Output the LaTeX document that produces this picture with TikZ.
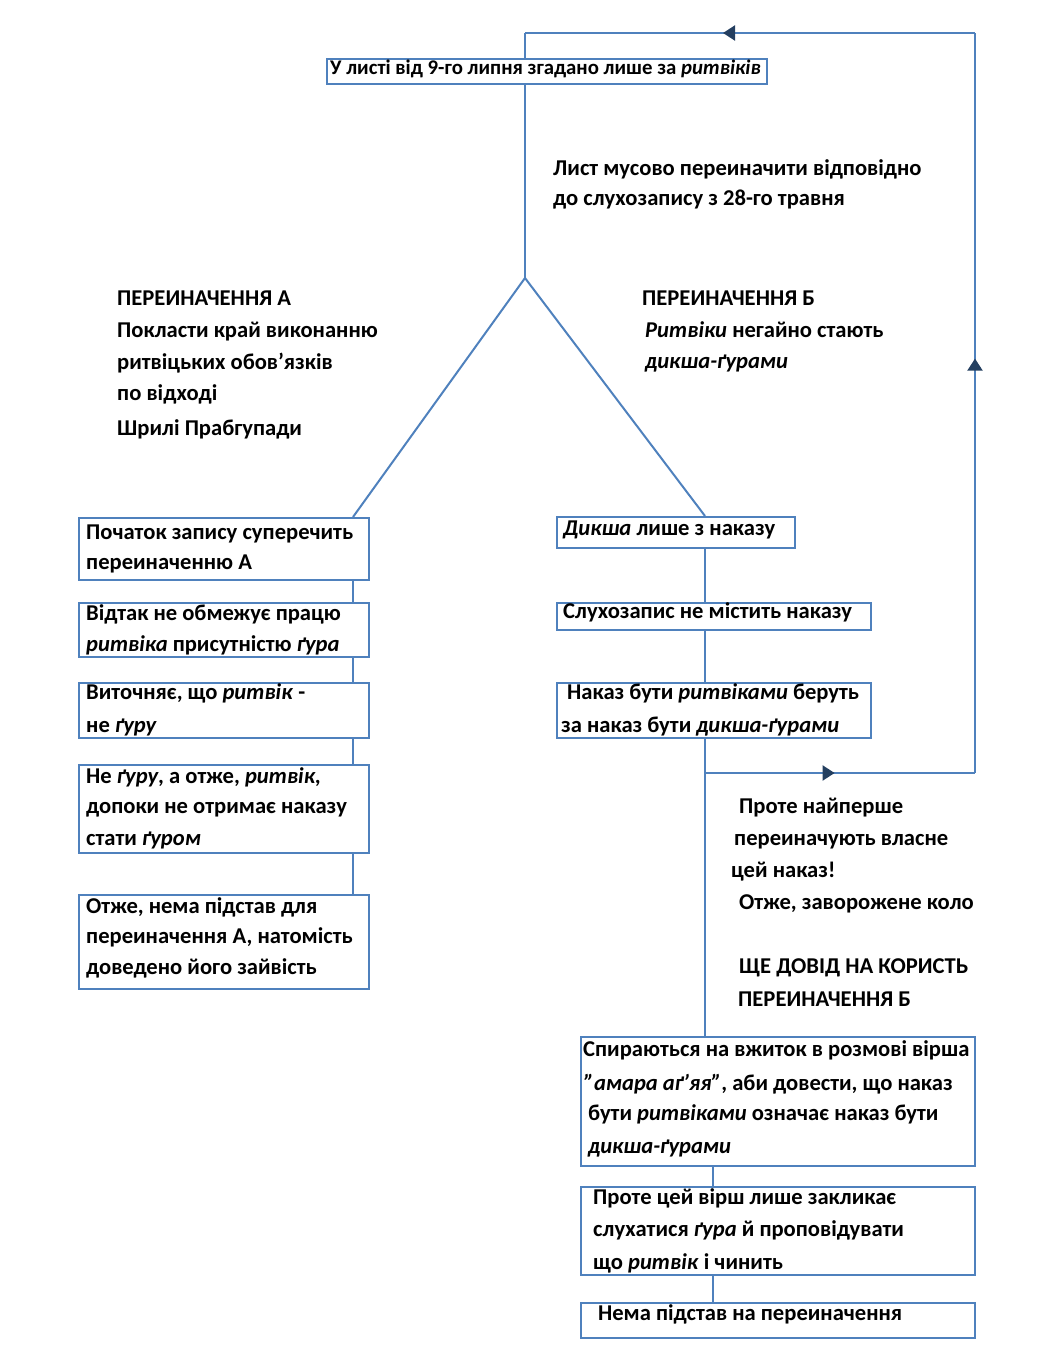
\documentclass[tikz,border=0pt]{standalone}
\usepackage{fontspec}
\setmainfont{Carlito}
\usetikzlibrary{arrows.meta,fit,decorations.markings}
\definecolor{lineblue}{HTML}{4F81BD}
\definecolor{navy}{HTML}{243F60}
\tikzset{
  box/.style={draw=lineblue, line width=2pt, inner sep=0pt, fill=none},
  conn/.style={draw=lineblue, line width=2pt},
  txt/.style={anchor=base west, inner sep=0pt, font=\fontsize{22.6}{26}\selectfont\bfseries, text=black},
  smalltxt/.style={txt, font=\fontsize{20.8}{24}\selectfont\bfseries},
  midarrow/.style={postaction={decorate, decoration={markings,
      mark=at position #1 with {\arrow[navy]{Triangle[width=15pt,length=12pt]}}}}},
}
\begin{document}
\begin{tikzpicture}[x=1pt,y=-1pt]
\useasboundingbox (0,0) rectangle (1060,1370);

% ---- top box
\node[box, fit={(327,59) (767,84)}] (top) {};
\node[smalltxt] (ttop) at (330,75) {У листі від 9-го липня згадано лише за \textit{ритвіків}};

% ---- fork
\coordinate (apex) at (525,278);
\coordinate (loopTL) at (525,33);
\coordinate (loopTR) at (975,33);
\coordinate (loopBR) at (975,773);
\coordinate (loopBL) at (705,773);

\node[txt] (q1) at (553,175) {Лист мусово переиначити відповідно};
\node[txt] (q2) at (553,205) {до слухозапису з 28-го травня};

\node[txt] (a1) at (117,305) {ПЕРЕИНАЧЕННЯ А};
\node[txt] (a2) at (117,337) {Покласти край виконанню};
\node[txt] (a3) at (117,369) {ритвіцьких обов’язків};
\node[txt] (a4) at (117,400) {по відході};
\node[txt] (a5) at (117,435) {Шрилі Прабгупади};

\node[txt] (b1) at (642,305) {ПЕРЕИНАЧЕННЯ Б};
\node[txt] (b2) at (645,337) {\textit{Ритвіки} негайно стають};
\node[txt] (b3) at (645,368) {\textit{дикша-ґурами}};

% ---- left column
\node[box, fit={(79,518) (369,580)}] (L1) {};
\node[txt] at (86,539) {Початок запису суперечить};
\node[txt] at (86,569) {переиначенню А};

\node[box, fit={(79,603) (369,657)}] (L2) {};
\node[txt] at (86,620) {Відтак не обмежує працю};
\node[txt] at (86,651) {\textit{ритвіка} присутністю \textit{ґура}};

\node[box, fit={(79,683) (369,738)}] (L3) {};
\node[txt] at (86,699) {Виточняє, що \textit{ритвік} -};
\node[txt] at (86,732) {не \textit{ґуру}};

\node[box, fit={(79,765) (369,853)}] (L4) {};
\node[txt] at (86,783) {Не \textit{ґуру}, а отже, \textit{ритвік},};
\node[txt] at (86,813) {допоки не отримає наказу};
\node[txt] at (86,845) {стати \textit{ґуром}};

\node[box, fit={(79,895) (369,989)}] (L5) {};
\node[txt] at (86,913) {Отже, нема підстав для};
\node[txt] at (86,943) {переиначення А, натомість};
\node[txt] at (86,974) {доведено його зайвість};

\coordinate (lx) at (353,0);

% ---- right column
\node[box, fit={(557,517) (795,548)}] (R1) {};
\node[txt] at (563,535) {\textit{Дикша} лише з наказу};

\node[box, fit={(557,603) (871,630)}] (R2) {};
\node[txt] at (563,618) {Слухозапис не містить наказу};

\node[box, fit={(557,683) (871,738)}] (R3) {};
\node[txt] at (567,699) {Наказ бути \textit{ритвіками} беруть};
\node[txt] at (561,732) {за наказ бути \textit{дикша-ґурами}};

\coordinate (rx) at (705,0);

\node[txt] (c1) at (739,813) {Проте найперше};
\node[txt] (c2) at (734,845) {переиначують власне};
\node[txt] (c3) at (731,877) {цей наказ!};
\node[txt] (c4) at (739,909) {Отже, заворожене коло};
\node[txt] (c5) at (739,973) {ЩЕ ДОВІД НА КОРИСТЬ};
\node[txt] (c6) at (738,1006) {ПЕРЕИНАЧЕННЯ Б};

% ---- bottom column
\node[box, fit={(581,1037) (975,1166)}] (B1) {};
\node[txt] at (583,1056) {Спираються на вжиток в розмові вірша};
\node[txt] at (584,1090) {\textit{{\char34}амара аґ’яя{\char34}}, аби довести, що наказ};
\node[txt] at (588,1120) {бути \textit{ритвіками} означає наказ бути};
\node[txt] at (588,1153) {\textit{дикша-ґурами}};

\node[box, fit={(581,1187) (975,1275)}] (B2) {};
\node[txt] at (593,1204) {Проте цей вірш лише закликає};
\node[txt] at (593,1236) {слухатися \textit{ґура} й проповідувати};
\node[txt] at (593,1269) {що \textit{ритвік} і чинить};

\node[box, fit={(581,1303) (975,1338)}] (B3) {};
\node[txt] at (598,1320) {Нема підстав на переиначення};

\coordinate (bx) at (713,0);

% ---- connectors
\draw[conn] (top.south -| loopTL) -- (apex);
\draw[conn] (apex) -- (L1.north -| lx);
\draw[conn] (apex) -- (R1.north -| rx);

\draw[conn] (L1.south -| lx) -- (L2.north -| lx);
\draw[conn] (L2.south -| lx) -- (L3.north -| lx);
\draw[conn] (L3.south -| lx) -- (L4.north -| lx);
\draw[conn] (L4.south -| lx) -- (L5.north -| lx);

\draw[conn] (R1.south -| rx) -- (R2.north -| rx);
\draw[conn] (R2.south -| rx) -- (R3.north -| rx);
\draw[conn] (R3.south -| rx) -- (B1.north -| rx);

\draw[conn] (B1.south -| bx) -- (B2.north -| bx);
\draw[conn] (B2.south -| bx) -- (B3.north -| bx);

% ---- loop
\draw[conn, midarrow=0.48] (loopBL) -- (loopBR);
\draw[conn, midarrow=0.56] (loopBR) -- (loopTR);
\draw[conn, midarrow=0.56] (loopTR) -- (loopTL);
\draw[conn] (loopTL) -- (top.north -| loopTL);
\end{tikzpicture}
\end{document}
